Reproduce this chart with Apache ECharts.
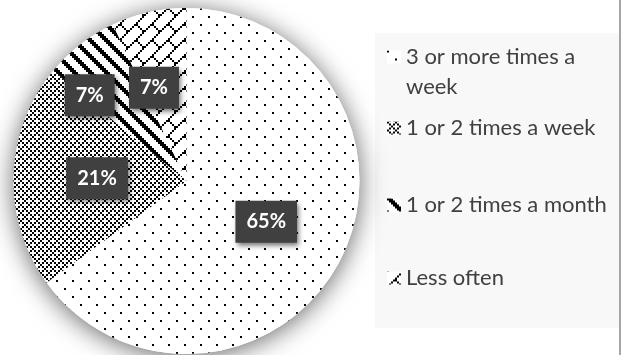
<!DOCTYPE html>
<html>
<head>
<meta charset="utf-8">
<script src="https://cdn.jsdelivr.net/npm/echarts@6/dist/echarts.min.js"></script>
<style>
  html, body { margin: 0; padding: 0; background: #ffffff; }
  #chart { width: 622px; height: 355px; }
</style>
</head>
<body>
<div id="chart"></div>
<script>
// Frequency categories and their share (percent)
const categories = ['3 or more times a week', '1 or 2 times a week', '1 or 2 times a month', 'Less often'];
const shares = [65, 21, 7, 7];

// 8x8 monochrome hatch bitmaps (1 = black), drawn at 2px per bit
const hatchDots = [
  '10000000', '00000000', '00000000', '00000000',
  '00001000', '00000000', '00000000', '00000000'
];
const hatchGrid = [
  '10001000', '01010101', '00100010', '01010101',
  '10001000', '01010101', '00100010', '01010101'
];
const hatchWideDiag = [
  '11100000', '01110000', '00111000', '00011100',
  '00001110', '00000111', '10000011', '11000001'
];
const hatchBrick = [
  '00000001', '00000010', '00000100', '00001000',
  '00011000', '00100100', '01000010', '10000001'
];

function makePattern(bits, scale) {
  const c = document.createElement('canvas');
  c.width = 8 * scale;
  c.height = 8 * scale;
  const g = c.getContext('2d');
  g.fillStyle = '#ffffff';
  g.fillRect(0, 0, c.width, c.height);
  g.fillStyle = '#000000';
  for (let y = 0; y < 8; y++) {
    for (let x = 0; x < 8; x++) {
      if (bits[y][x] === '1') g.fillRect(x * scale, y * scale, scale, scale);
    }
  }
  return { image: c, repeat: 'repeat' };
}

const fills = [
  makePattern(hatchDots, 2),
  makePattern(hatchGrid, 2),
  makePattern(hatchWideDiag, 2),
  makePattern(hatchBrick, 2)
];

// Label nudges for the two thin slices
const labelOffsets = [[0, 0], [0, 0], [-42, -15], [-13, -6]];

const chart = echarts.init(document.getElementById('chart'), null, { renderer: 'canvas' });

const legendFont = { fontFamily: 'Lato', fontSize: 22, color: '#404040', lineHeight: 30 };
const legendTops = [12, 113, 190, 263];

const legends = categories.map((name, i) => ({
  data: [name],
  orient: 'vertical',
  left: 387,
  top: legendTops[i],
  padding: 0,
  itemWidth: 14,
  itemHeight: 13,
  itemGap: 0,
  selectedMode: false,
  icon: 'rect',
  // the first entry wraps onto a second line; a leading blank line keeps
  // its first line level with the swatch
  formatter: i === 0 ? (n) => '\n' + n.replace(' week', '\nweek') : (n) => n,
  textStyle: legendFont
}));

chart.setOption({
  animation: false,
  backgroundColor: '#ffffff',
  graphic: [
    { type: 'rect', z: 0, silent: true, shape: { x: 375, y: 33, width: 245, height: 295 }, style: { fill: '#f8f8f8' } },
    { type: 'line', z: 0, silent: true, shape: { x1: 620, y1: 0, x2: 620, y2: 355 }, style: { stroke: '#a6a6a6', lineWidth: 2 } }
  ],
  legend: legends,
  series: [
    {
      // soft shadow disc behind the pie
      type: 'pie',
      silent: true,
      center: [186.5, 181],
      radius: 173,
      z: 1,
      label: { show: false },
      labelLine: { show: false },
      itemStyle: { color: '#ffffff', shadowBlur: 26, shadowColor: 'rgba(0,0,0,0.6)', shadowOffsetX: 0, shadowOffsetY: 3 },
      data: [{ value: 1, name: '' }]
    },
    {
      type: 'pie',
      center: [186.5, 181],
      radius: 173,
      startAngle: 90,
      clockwise: true,
      z: 2,
      emphasis: { disabled: true },
      itemStyle: { borderWidth: 0 },
      label: {
        show: true,
        position: 'inside',
        formatter: '{c}%',
        color: '#ffffff',
        fontFamily: 'Lato',
        fontWeight: 'bold',
        fontSize: 20,
        lineHeight: 23,
        backgroundColor: '#404040',
        padding: [10, 11, 9, 11],
        shadowColor: 'rgba(0,0,0,0.55)',
        shadowBlur: 5,
        shadowOffsetX: 2,
        shadowOffsetY: 3
      },
      labelLine: { show: false },
      data: categories.map((name, i) => ({
        name: name,
        value: shares[i],
        itemStyle: { color: fills[i] },
        label: { offset: labelOffsets[i] }
      }))
    }
  ]
});
</script>
</body>
</html>
